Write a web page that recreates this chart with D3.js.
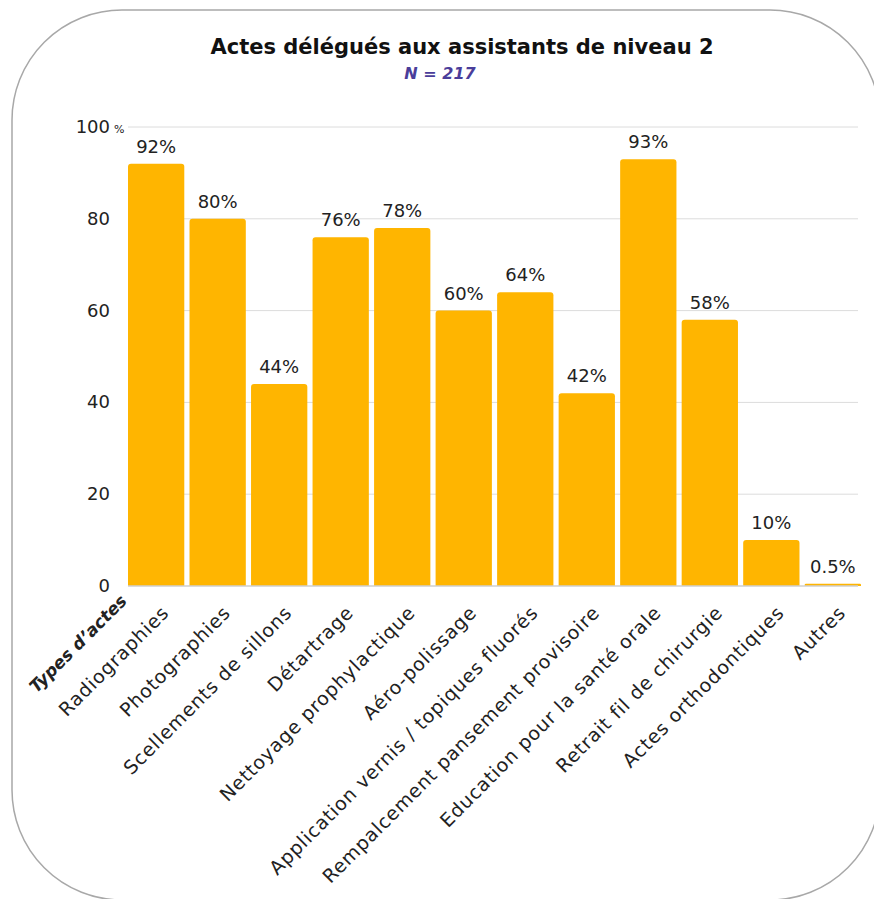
<!DOCTYPE html>
<html>
<head>
<meta charset="utf-8">
<title>Actes délégués</title>
<script src="https://cdn.jsdelivr.net/npm/d3@7"></script>
<style>
  body { margin: 0; background: #fff; }
  text { font-family: "DejaVu Sans", sans-serif; fill: #222; }
</style>
</head>
<body>
<svg id="mainsvg" width="874" height="899"></svg>
<script>
const categories = ['Radiographies', 'Photographies', 'Scellements de sillons', 'Détartrage',
  'Nettoyage prophylactique', 'Aéro-polissage', 'Application vernis / topiques fluorés',
  'Rempalcement pansement provisoire', 'Education pour la santé orale', 'Retrait fil de chirurgie',
  'Actes orthodontiques', 'Autres']
const values = [92, 80, 44, 76, 78, 60, 64, 42, 93, 58, 10, 0.5]
const valueLabels = ['92%', '80%', '44%', '76%', '78%', '60%', '64%', '42%', '93%', '58%', '10%', '0.5%']
const yTicks = [0, 20, 40, 60, 80, 100]

const svg = d3.select('#mainsvg')
const margin = {top: 127, right: 13, bottom: 313, left: 128}
const width = +svg.attr('width')
const height = +svg.attr('height')

// card background
svg.append('rect')
  .attr('x', 12).attr('y', 10)
  .attr('width', 868).attr('height', 890)
  .attr('rx', 110).attr('ry', 110)
  .attr('fill', '#fff')
  .attr('stroke', '#a8a8a8')
  .attr('stroke-width', 1.5)

svg.append('text')
  .attr('x', 462).attr('y', 54)
  .attr('text-anchor', 'middle')
  .attr('font-size', 21).attr('font-weight', 700)
  .style('fill', '#111')
  .text('Actes délégués aux assistants de niveau 2')

svg.append('text')
  .attr('x', 440).attr('y', 79)
  .attr('text-anchor', 'middle')
  .attr('font-size', 16).attr('font-weight', 700).attr('font-style', 'italic')
  .style('fill', '#4a3d9a')
  .text('N = 217')

const x = d3.scaleBand()
  .domain(categories)
  .range([margin.left, width - margin.right])
  .paddingInner(0.085)
  .paddingOuter(0)

const y = d3.scaleLinear()
  .domain([0, 100])
  .range([height - margin.bottom, margin.top])

// grid
svg.append('g')
  .selectAll('line')
  .data(yTicks.filter(d => d > 0))
  .join('line')
  .attr('x1', margin.left).attr('x2', 858)
  .attr('y1', d => y(d)).attr('y2', d => y(d))
  .attr('stroke', '#dcdcdc')
  .attr('stroke-width', 1)

// y tick labels
const yl = svg.append('g')
yl.selectAll('text')
  .data(yTicks)
  .join('text')
  .attr('x', 110)
  .attr('y', d => y(d) + 6)
  .attr('text-anchor', 'end')
  .attr('font-size', 18)
  .text(d => d)
yl.append('text')
  .attr('x', 114).attr('y', y(100) + 6)
  .attr('font-size', 11)
  .text('%')

// bars with rounded top
const bw = x.bandwidth()
svg.append('g')
  .selectAll('path')
  .data(values)
  .join('path')
  .attr('fill', '#ffb500')
  .attr('d', (d, i) => {
    const x0 = x(categories[i]), y0 = y(d), y1 = y(0)
    const r = Math.min(3, (y1 - y0) / 2)
    return `M${x0},${y1}V${y0 + r}Q${x0},${y0} ${x0 + r},${y0}H${x0 + bw - r}Q${x0 + bw},${y0} ${x0 + bw},${y0 + r}V${y1}Z`
  })

// baseline
svg.append('line')
  .attr('x1', margin.left).attr('x2', 858)
  .attr('y1', y(0)).attr('y2', y(0))
  .attr('stroke', '#cfcfcf').attr('stroke-width', 1.5)

// value labels
svg.append('g')
  .selectAll('text')
  .data(values)
  .join('text')
  .attr('x', (d, i) => x(categories[i]) + bw / 2)
  .attr('y', d => y(d) - 11)
  .attr('text-anchor', 'middle')
  .attr('font-size', 18)
  .text((d, i) => valueLabels[i])

// category labels
svg.append('g')
  .selectAll('text')
  .data(categories)
  .join('text')
  .attr('text-anchor', 'end')
  .attr('font-size', 19)
  .attr('letter-spacing', 0.8)
  .attr('transform', d => `translate(${x(d) + bw / 2 + 14},${y(0) + 28}) rotate(-45)`)
  .text(d => d)

svg.append('text')
  .attr('text-anchor', 'end')
  .attr('font-size', 17)
  .attr('font-weight', 700).attr('font-style', 'italic')
  .attr('transform', `translate(${margin.left},${y(0) + 16}) rotate(-45)`)
  .text('Types d’actes')
</script>
</body>
</html>
